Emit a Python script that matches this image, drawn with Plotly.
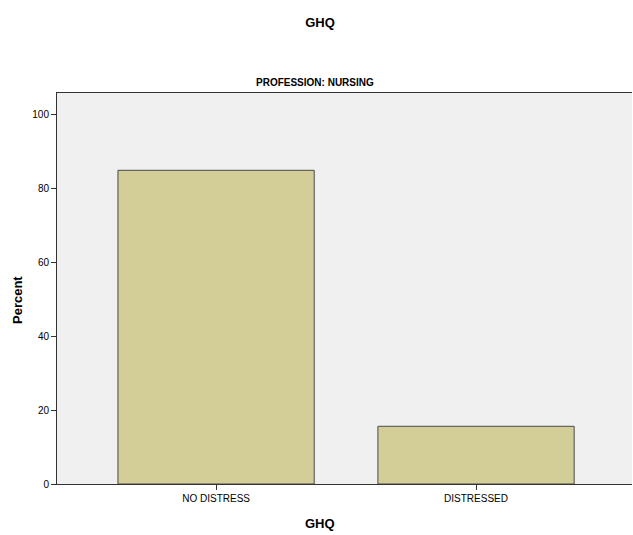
import plotly.graph_objects as go

categories = ["NO DISTRESS", "DISTRESSED"]
percent = [84.8, 15.6]
y_ticks = [0, 20, 40, 60, 80, 100]

font_narrow = "Liberation Sans Narrow, Arial Narrow, Liberation Sans, Arial, sans-serif"
font_bold = "Liberation Sans, Arial, sans-serif"

W, H = 633, 535
L, R, T, B = 57, 1, 93, 51
PW, PH = W - L - R, H - T - B

fig = go.Figure()
fig.add_trace(go.Bar(
    x=[0, 1], y=percent, width=0.755,
    marker=dict(color="#d3ce97", line=dict(color="#4a4a4a", width=1)),
    hoverinfo="skip",
))

fig.update_layout(
    width=W, height=H,
    margin=dict(l=L, r=R, t=T, b=B, autoexpand=False),
    paper_bgcolor="white", plot_bgcolor="#f0f0f0",
    showlegend=False,
    title=dict(text="<b>GHQ</b>", x=320 / W, xanchor="center", y=1 - 22 / H, yanchor="middle",
               font=dict(family=font_bold, size=13, color="black")),
    font=dict(family=font_narrow, size=10, color="black"),
    annotations=[
        dict(text="<b>PROFESSION: NURSING</b>", xref="paper", yref="paper",
             x=(315 - L) / PW, y=1, xanchor="center", yanchor="bottom", yshift=3,
             showarrow=False, font=dict(family=font_narrow, size=10, color="black")),
        dict(text="<b>GHQ</b>", xref="paper", yref="paper",
             x=(320 - L) / PW, y=-(523 - (H - B)) / PH,
             xanchor="center", yanchor="middle",
             showarrow=False, font=dict(family=font_bold, size=13, color="black")),
        dict(text="<b>Percent</b>", xref="paper", yref="paper", textangle=-90,
             x=-(L - 17) / PW, y=(H - B - 300) / PH,
             xanchor="center", yanchor="middle",
             showarrow=False, font=dict(family=font_bold, size=13, color="black")),
    ],
)
fig.update_xaxes(
    range=[-0.612, 1.6], tickvals=[0, 1], ticktext=categories, automargin=False,
    ticks="outside", ticklen=5, tickcolor="#333", showgrid=False, zeroline=False,
    showline=True, linecolor="#333", linewidth=1, mirror=True,
    tickfont=dict(family=font_narrow, size=10),
)
fig.update_yaxes(
    range=[0, 105.7], tickvals=y_ticks, automargin=False,
    ticks="outside", ticklen=5, tickcolor="#333", showgrid=False, zeroline=False,
    showline=True, linecolor="#333", linewidth=1,
    tickfont=dict(family=font_narrow, size=10),
)

fig.write_html("out.html", config={"displayModeBar": False},
               post_script="document.body.style.margin='0';")
